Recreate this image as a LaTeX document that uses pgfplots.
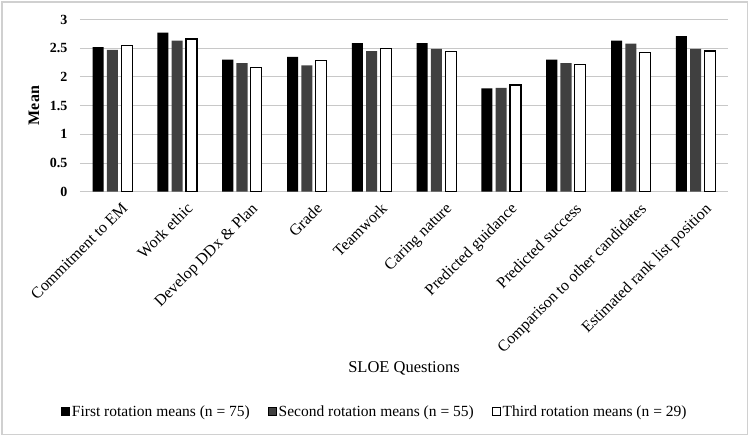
\documentclass[border=0pt]{standalone}
\usepackage{pgfplots}
\pgfplotsset{compat=1.18}
\usepackage{pgfplotstable}
\usepackage{fontspec}
\setmainfont{Liberation Serif}

\definecolor{barblack}{HTML}{000000}
\definecolor{bargray}{HTML}{404040}
\definecolor{gridgray}{HTML}{C8C8C8}
\definecolor{framegray}{HTML}{D0D0D0}

% Mean SLOE scores per question, by rotation
\pgfplotstableread{
x first second third
0 2.52 2.47 2.55
1 2.77 2.63 2.66
2 2.30 2.24 2.17
3 2.35 2.20 2.28
4 2.59 2.45 2.49
5 2.59 2.49 2.44
6 1.80 1.81 1.86
7 2.30 2.24 2.21
8 2.63 2.58 2.42
9 2.71 2.49 2.45
}\means

\begin{document}
\begin{tikzpicture}
\useasboundingbox (0pt,0pt) rectangle (750pt,-438pt);
\draw[framegray, line width=1.5pt] (2pt,-2pt) rectangle (747.5pt,-434.5pt);
\begin{axis}[
  at={(80pt,-191.7pt)}, anchor=south west,
  scale only axis,
  width=648pt, height=172.2pt,
  xmin=-0.5, xmax=9.5,
  ymin=0, ymax=3,
  ytick={0,0.5,...,3},
  yticklabels={0,0.5,1,1.5,2,2.5,3},
  xtick={0,...,9},
  xticklabels={Commitment to EM, Work ethic, Develop DDx \& Plan, Grade, Teamwork, Caring nature, Predicted guidance, Predicted success, Comparison to other candidates, Estimated rank list position},
  major tick length=0pt,
  axis line style={draw=none},
  ymajorgrids,
  major grid style={gridgray, line width=0.9pt},
  yticklabel style={font=\fontsize{14}{16}\selectfont\bfseries, xshift=-9pt},
  xticklabel style={font=\fontsize{16}{18}\selectfont, rotate=45, anchor=north east, inner sep=1pt, yshift=-12pt},
  /pgf/number format/assume math mode=true,
  xlabel={SLOE Questions},
  xlabel style={font=\fontsize{16.5}{19}\selectfont, at={(axis description cs:0.5,0)}, anchor=center, yshift=-176.3pt},
  ylabel={Mean},
  ylabel style={font=\fontsize{16}{19}\selectfont\bfseries, at={(axis description cs:-0.071,0.5)}, anchor=center},
  legend columns=3,
  legend style={draw=none, fill=none, at={(axis description cs:0.455,0)}, anchor=center, yshift=-220pt,
    font=\fontsize{15.5}{17}\selectfont, column sep=0pt,
    /tikz/every even column/.append style={column sep=16pt}},
  ybar, bar width=0.17,
  legend image code/.code={\draw[#1, line width=0.8pt] (0pt,-4pt) rectangle (8pt,4pt);},
]
\addplot[fill=barblack, draw=none, bar shift=-0.22] table[x=x, y=first] {\means};
\addlegendentry{First rotation means (n = 75)}
\addplot[fill=bargray, draw=none, bar shift=0] table[x=x, y=second] {\means};
\addlegendentry{Second rotation means (n = 55)}
\addplot[fill=white, draw=black, line width=1.2pt, bar shift=0.22] table[x=x, y=third] {\means};
\addlegendentry{Third rotation means (n = 29)}
\end{axis}
\end{tikzpicture}
\end{document}
